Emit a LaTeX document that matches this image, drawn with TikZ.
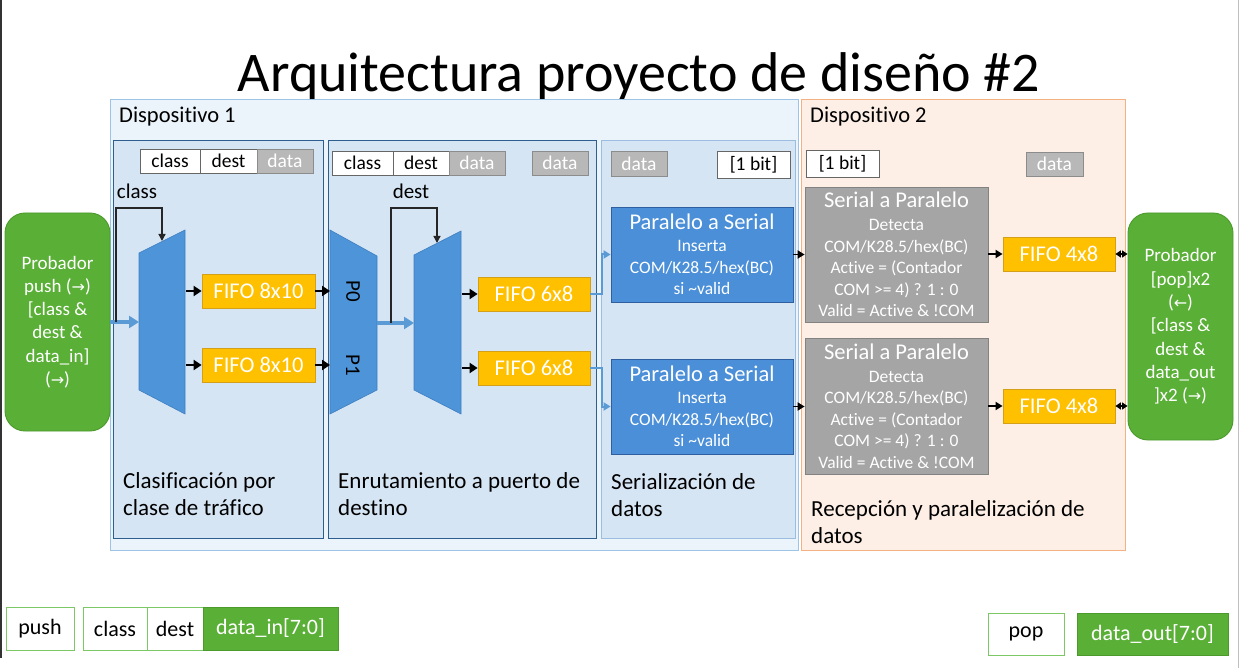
\documentclass[tikz,border=0pt]{standalone}
\usepackage{fontspec}
\setmainfont{Carlito}[Ligatures=NoCommon]
\newfontfamily\symfont{DejaVu Sans}
\usetikzlibrary{arrows.meta}

\definecolor{devA}{HTML}{EBF3FB}
\definecolor{devAline}{HTML}{9DC3E6}
\definecolor{stage}{HTML}{D6E5F4}
\definecolor{stageline}{HTML}{2E5E8E}
\definecolor{stagelite}{HTML}{9DBDE0}
\definecolor{devB}{HTML}{FDEFE5}
\definecolor{devBline}{HTML}{F4B183}
\definecolor{trap}{HTML}{4E94D9}
\definecolor{trapline}{HTML}{3F7FC0}
\definecolor{fifo}{HTML}{FFC000}
\definecolor{fifoline}{HTML}{D4A017}
\definecolor{pts}{HTML}{4A8FD8}
\definecolor{ptsline}{HTML}{2F5F9E}
\definecolor{gbox}{HTML}{A5A5A5}
\definecolor{gboxline}{HTML}{828282}
\definecolor{hdrgray}{HTML}{B8B8B8}
\definecolor{hdrgrayline}{HTML}{8C8C8C}
\definecolor{grn}{HTML}{5AAF37}
\definecolor{grnline}{HTML}{4C9A2C}
\definecolor{grnlite}{HTML}{7CC867}
\definecolor{flow}{HTML}{5B9BD5}

\newcommand\szTitle{\fontsize{56}{60}\selectfont}
\newcommand\szBig{\fontsize{22.5}{27.5}\selectfont}
\newcommand\szCap{\fontsize{23}{27.5}\selectfont}
\newcommand\szMid{\fontsize{19.5}{23}\selectfont}
\newcommand\szSmall{\fontsize{17.5}{21.5}\selectfont}
\newcommand\rarr{{\symfont\fontsize{16}{20}\selectfont →}}
\newcommand\larr{{\symfont\fontsize{16}{20}\selectfont ←}}

\tikzset{
  box/.style={rectangle, inner sep=0pt, line width=0.8pt},
  devbox/.style={box, line width=1pt},
  stagebox/.style={box, fill=stage, draw=stageline, line width=0.9pt},
  hdrwhite/.style={box, fill=white, draw=gray!80!black, font=\szMid, minimum height=24},
  hdrgrey/.style={box, fill=hdrgray, draw=hdrgrayline, text=white, font=\szMid, minimum height=24},
  fifobox/.style={box, fill=fifo, draw=fifoline, text=white, font=\szBig, minimum width=112, minimum height=34},
  ptsbox/.style={box, fill=pts, draw=ptsline, text=white, align=center, font=\szSmall, minimum width=182, minimum height=95},
  sapbox/.style={box, fill=gbox, draw=gboxline, text=white, align=center, font=\szSmall, minimum width=183, minimum height=135},
  probbox/.style={rectangle, rounded corners=20pt, fill=grn, draw=grnline, line width=0.9pt, text=white, align=center, font=\fontsize{19}{23.3}\selectfont, inner sep=0pt},
  legwhite/.style={box, fill=white, draw=grnlite, line width=1pt, font=\fontsize{22}{26}\selectfont, minimum height=43},
  leggreen/.style={box, fill=grn, draw=grnline, line width=1pt, text=white, font=\fontsize{22}{26}\selectfont, minimum height=43},
  trapshape/.style={fill=trap, draw=trapline, line width=0.6pt},
  stagelabel/.style={anchor=west, align=left, font=\szCap, inner sep=0pt},
  blkarrow/.style={draw=black, line width=2.4pt, -{Triangle[length=8pt,width=10pt]}},
  flowarrow/.style={draw=flow, line width=3.5pt, -{Triangle[length=10pt,width=12pt]}},
  flowthin/.style={draw=flow, line width=2pt, -{Triangle[length=7pt,width=8pt]}},
  selline/.style={draw=black!85, line width=1.3pt, -{Triangle[length=7pt,width=7pt]}},
  bidir/.style={draw=black, line width=1.5pt, {Triangle[length=5.5pt,width=7pt]}-{Triangle[length=5.5pt,width=7pt]}},
}

\begin{document}
\begin{tikzpicture}[x=1pt, y=-1pt]
\useasboundingbox (0,0) rectangle (1240,668);

% page edges
\draw[line width=2pt, black!80] (1,0) -- (1,658);
\draw[line width=1pt, black!25] (1238.5,0) -- (1238.5,668);

% title
\node[anchor=base, font=\szTitle, inner sep=0pt] (title) at (639,92) {Arquitectura proyecto de diseño \#2};

% device areas
\node[devbox, fill=devA, draw=devAline, minimum width=688, minimum height=450] (dev1) at (454,325) {};
\node[devbox, fill=devB, draw=devBline, minimum width=324, minimum height=450] (dev2) at (963,325) {};
\node[anchor=west, font=\fontsize{22.5}{26}\selectfont, inner sep=0pt] (dev1lbl) at (119,117) {Dispositivo 1};
\node[anchor=west, font=\fontsize{22.5}{26}\selectfont, inner sep=0pt] (dev2lbl) at (810,117) {Dispositivo 2};

% stages of device 1
\node[stagebox, minimum width=210, minimum height=398] (st1) at (218,339) {};
\node[stagebox, minimum width=268, minimum height=398] (st2) at (462,339) {};
\node[stagebox, draw=stagelite, minimum width=194, minimum height=398] (st3) at (698,339) {};

% word format headers
\node[hdrwhite, minimum width=60] (h1c) at (170,161) {class};
\node[hdrwhite, minimum width=57] (h1d) at (228.5,161) {dest};
\node[hdrgrey, minimum width=56] (h1x) at (285,161) {data};
\node[hdrwhite, minimum width=61] (h2c) at (362.5,163) {class};
\node[hdrwhite, minimum width=56] (h2d) at (421,163) {dest};
\node[hdrgrey, minimum width=56] (h2x) at (477,163) {data};
\node[hdrgrey, minimum width=56] (h2y) at (560,163) {data};
\node[hdrgrey, minimum width=56, minimum height=25] (h3x) at (639,163.5) {data};
\node[hdrwhite, minimum width=73, minimum height=27] (h3b) at (753.5,164.5) {[1 bit]};
\node[hdrwhite, minimum width=73, minimum height=27] (h4b) at (842.5,163.5) {[1 bit]};
\node[hdrgrey, minimum width=57] (h4x) at (1054.5,164) {data};

% selector labels
\node[font=\fontsize{21}{25}\selectfont, inner sep=0pt] (selclass) at (137,191) {class};
\node[font=\fontsize{21}{25}\selectfont, inner sep=0pt] (seldest) at (411,191) {dest};

% demux / mux / demux
\draw[trapshape] (139,253) -- (185,230) -- (185,414) -- (139,390) -- cycle;
\draw[trapshape] (330,230) -- (377,256) -- (377,390) -- (330,414) -- cycle;
\draw[trapshape] (414,255) -- (461,231) -- (461,414) -- (414,390) -- cycle;
\node[rotate=-90, font=\fontsize{21}{25}\selectfont, inner sep=0pt] (p0) at (353,291) {P0};
\node[rotate=-90, font=\fontsize{21}{25}\selectfont, inner sep=0pt] (p1) at (353,365) {P1};

\coordinate (d1in) at (139,322);
\coordinate (d1o1) at (186,291);
\coordinate (d1o2) at (186,365);
\coordinate (d1sel) at (162,241);
\coordinate (d1tap) at (116,322);
\coordinate (d1top) at (162,208);
\coordinate (m0) at (330,291);
\coordinate (m1) at (330,365);
\coordinate (mout) at (377,323);
\coordinate (d2in) at (414,323);
\coordinate (d2tap) at (391,323);
\coordinate (d2top) at (437,208);
\coordinate (d2sel) at (437,243);
\coordinate (d2o1) at (462,294);
\coordinate (d2o2) at (462,368);

% FIFOs
\node[fifobox, minimum width=113] (f8a) at (258.5,291) {FIFO 8x10};
\node[fifobox, minimum width=113] (f8b) at (258.5,365) {FIFO 8x10};
\node[fifobox] (f6a) at (534,294) {FIFO 6x8};
\node[fifobox] (f6b) at (534,368) {FIFO 6x8};
\node[fifobox] (f4a) at (1059,254) {FIFO 4x8};
\node[fifobox] (f4b) at (1059,406) {FIFO 4x8};

% parallel to serial
\node[ptsbox] (psA) at (702,254.5) {{\fontsize{22.5}{24}\selectfont Paralelo a Serial}\\[1pt]Inserta\\COM/K28.5/hex(BC)\\si \textasciitilde valid};
\node[ptsbox] (psB) at (702,406.5) {{\fontsize{22.5}{24}\selectfont Paralelo a Serial}\\[1pt]Inserta\\COM/K28.5/hex(BC)\\si \textasciitilde valid};

% serial to parallel
\node[sapbox] (spA) at (896.5,254.5) {{\fontsize{22.5}{24}\selectfont Serial a Paralelo}\\[1.5pt]Detecta\\COM/K28.5/hex(BC)\\Active = (Contador\\COM >= 4) ? 1 : 0\\Valid = Active \& !COM};
\node[sapbox, minimum height=136] (spB) at (896.5,406) {{\fontsize{22.5}{24}\selectfont Serial a Paralelo}\\[1.5pt]Detecta\\COM/K28.5/hex(BC)\\Active = (Contador\\COM >= 4) ? 1 : 0\\Valid = Active \& !COM};

% testers
\node[probbox, minimum width=105, minimum height=218] (probL) at (57.5,322) {Probador\\push (\rarr)\\{[}class \&\\dest \&\\data\_in]\\(\rarr)};
\node[probbox, minimum width=105, minimum height=227] (probR) at (1180.5,326.5) {Probador\\{[}pop]x2\\(\larr)\\{[}class \&\\dest \&\\data\_out\\]x2 (\rarr)};

% stage captions
\node[stagelabel] (cap1) at (123,494) {Clasificación por\\clase de tráfico};
\node[stagelabel] (cap2) at (338,494) {Enrutamiento a puerto de\\destino};
\node[stagelabel] (cap3) at (611,495) {Serialización de\\datos};
\node[stagelabel] (cap4) at (811,522) {Recepción y paralelización de\\datos};

% connectors
\draw[flowarrow] (probL.east |- d1in) -- (d1in);
\draw[selline] (d1tap) |- (d1top) -- (d1sel);
\draw[blkarrow] (d1o1) -- (f8a.west);
\draw[blkarrow] (d1o2) -- (f8b.west);
\draw[blkarrow] (f8a.east) -- (m0);
\draw[blkarrow] (f8b.east) -- (m1);
\draw[flowarrow] (mout) -- (d2in);
\draw[selline] (d2tap) |- (d2top) -- (d2sel);
\draw[blkarrow] (d2o1) -- (f6a.west);
\draw[blkarrow] (d2o2) -- (f6b.west);
\draw[flowthin] (f6a.east) -- ++(12,0) |- (psA.west);
\draw[flowthin] (f6b.east) -- ++(12,0) |- (psB.west);
\draw[blkarrow, line width=1.8pt, -{Triangle[length=7pt,width=8pt]}] (psA.east) -- (spA.west);
\draw[blkarrow, line width=1.8pt, -{Triangle[length=7pt,width=8pt]}] (psB.east) -- (spB.west |- psB.east);
\draw[blkarrow, line width=1.8pt, -{Triangle[length=7pt,width=8pt]}] (spA.east |- f4a.west) -- (f4a.west);
\draw[blkarrow, line width=1.8pt, -{Triangle[length=7pt,width=8pt]}] (spB.east |- f4b.west) -- (f4b.west);
\draw[bidir] (f4a.east) -- (f4a.east -| probR.west);
\draw[bidir] (f4b.east) -- (f4b.east -| probR.west);

% signal legend
\node[legwhite, minimum width=68] (lpush) at (40,628.5) {push};
\node[legwhite, minimum width=64] (lclass) at (115,628.5) {class};
\node[legwhite, minimum width=56] (ldest) at (175,628.5) {dest};
\node[leggreen, minimum width=135] (ldin) at (270.5,628.5) {data\_in[7:0]};
\node[legwhite, minimum width=76, minimum height=42] (lpop) at (1026,634) {pop};
\node[leggreen, minimum width=151, minimum height=42] (ldout) at (1152.5,634) {data\_out[7:0]};
\end{tikzpicture}
\end{document}
